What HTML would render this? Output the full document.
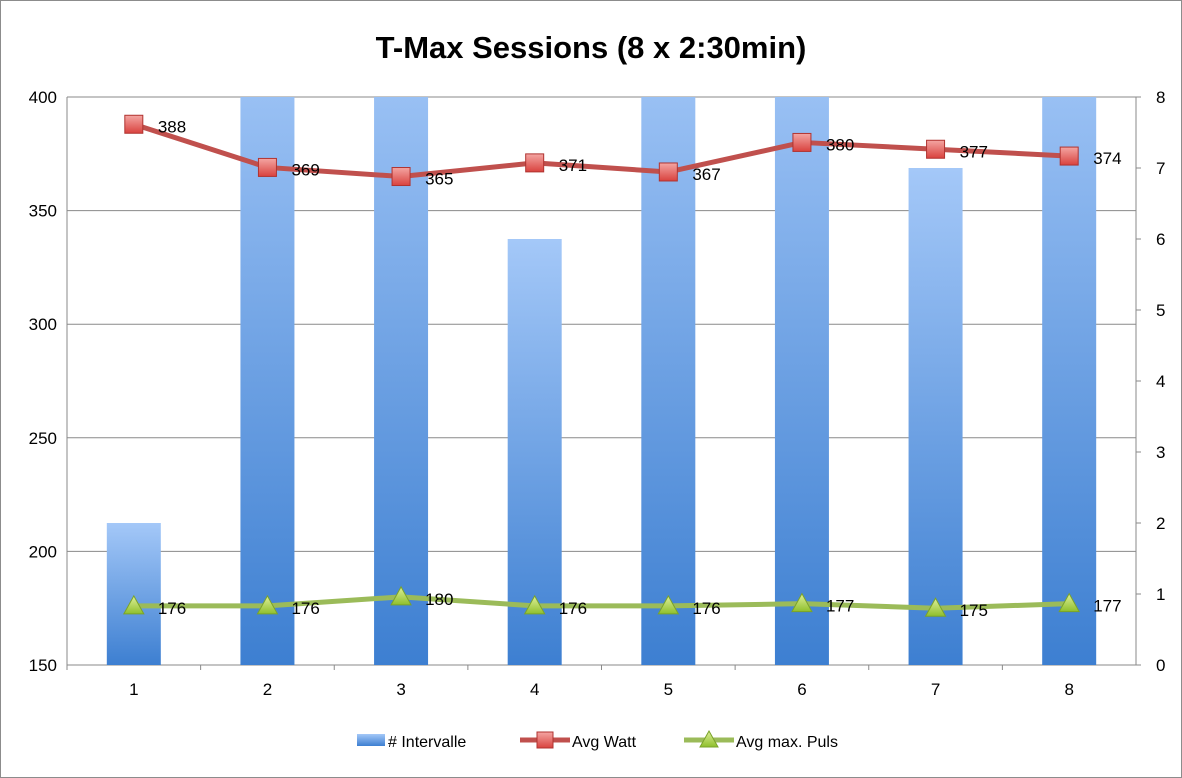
<!DOCTYPE html>
<html><head><meta charset="utf-8"><style>
body{margin:0;background:#fff;}
svg{display:block;font-family:"Liberation Sans",sans-serif;}
</style></head><body>
<svg id="c" width="1182" height="778">
<defs>
<linearGradient id="bg" x1="0" y1="0" x2="0" y2="1">
<stop offset="0" stop-color="#a4c8f8"/><stop offset="1" stop-color="#3d7fd1"/>
</linearGradient>
<linearGradient id="sq" x1="0" y1="0" x2="0" y2="1">
<stop offset="0" stop-color="#f4a6a3"/><stop offset="1" stop-color="#d9423e"/>
</linearGradient>
<linearGradient id="tr" x1="0" y1="0" x2="0" y2="1">
<stop offset="0" stop-color="#dff09a"/><stop offset="1" stop-color="#8fbf2c"/>
</linearGradient>
<clipPath id="plot"><rect x="67" y="97" width="1069" height="568"/></clipPath>
</defs>
<rect x="0.5" y="0.5" width="1181" height="777" fill="#fff" stroke="#8c8c8c"/>
<text x="591" y="58" text-anchor="middle" font-size="31" font-weight="bold">T-Max Sessions (8 x 2:30min)</text>
<g id="g"></g>
</svg>
<script>
const categories=["1","2","3","4","5","6","7","8"];
const intervals=[2,9,9,6,9,9,7,9];
const watt=[388,369,365,371,367,380,377,374];
const puls=[176,176,180,176,176,177,175,177];
const leftTicks=[150,200,250,300,350,400];
const rightTicks=[0,1,2,3,4,5,6,7,8];
const X0=67,X1=1136,Y0=665,Y1=97;
const yL=v=>Y0-(v-150)/250*(Y0-Y1);
const yR=v=>Y0-v/8*(Y0-Y1);
const step=(X1-X0)/categories.length;
const xC=i=>X0+step*(i+0.5);
const g=document.getElementById('g');
const NS='http://www.w3.org/2000/svg';
function mk(t,a,p){const e=document.createElementNS(NS,t);for(const k in a)e.setAttribute(k,a[k]);(p||g).appendChild(e);return e;}
leftTicks.forEach(v=>{
 const l=mk('line',{x1:X0,x2:X1,y1:yL(v),y2:yL(v),stroke:'#8a8a8a','stroke-width':1});
 
 
 const t=mk('text',{x:X0-10,y:yL(v)+6,'text-anchor':'end','font-size':17});t.textContent=v;
 
 
});
rightTicks.forEach(v=>{
 mk('line',{x1:X1,x2:X1+5,y1:yR(v),y2:yR(v),stroke:'#8a8a8a'});
 const t=mk('text',{x:X1+20,y:yR(v)+6,'font-size':17});t.textContent=v;
 
 
});
mk('line',{x1:X0,x2:X0,y1:Y1,y2:Y0,stroke:'#8a8a8a'});
mk('line',{x1:X1,x2:X1,y1:Y1,y2:Y0,stroke:'#8a8a8a'});
const bg=mk('g',{'clip-path':'url(#plot)'});
intervals.forEach((v,i)=>{
 const r=mk('rect',{x:xC(i)-27,y:yR(v),width:54,height:Y0-yR(v),fill:'url(#bg)'},bg);
 
 
});
categories.forEach((c,i)=>{
 mk('line',{x1:X0+step*i,x2:X0+step*i,y1:Y0,y2:Y0+5,stroke:'#8a8a8a'});
 const t=mk('text',{x:xC(i),y:Y0+30,'text-anchor':'middle','font-size':17});t.textContent=c;
 
 
});
function series(vals,color,name,marker){
 const p=mk('polyline',{points:vals.map((v,i)=>xC(i)+','+yL(v)).join(' '),fill:'none',stroke:color,'stroke-width':5,'stroke-linejoin':'round'});
 
 
 vals.forEach((v,i)=>{
  const x=xC(i),y=yL(v);
  let m;
  if(marker==='sq') m=mk('rect',{x:x-9,y:y-9,width:18,height:18,fill:'url(#sq)',stroke:'#b03330','stroke-width':1});
  else m=mk('polygon',{points:`${x},${y-10} ${x+10},${y+8} ${x-10},${y+8}`,fill:'url(#tr)',stroke:'#7aa32a','stroke-width':1});
  
  
  const t=mk('text',{x:x+24,y:y+8,'font-size':17});t.textContent=v;
  
  
 });
}
series(watt,'#c0504d','avg-watt','sq');
series(puls,'#9bbb59','avg-puls','tr');
const lg=mk('g',{});


mk('rect',{x:357,y:734,width:28,height:12,fill:'url(#bg)'},lg);
let t=mk('text',{x:388,y:747,'font-size':16},lg);t.textContent='# Intervalle';
mk('line',{x1:520,x2:570,y1:740,y2:740,stroke:'#c0504d','stroke-width':5},lg);
mk('rect',{x:537,y:732,width:16,height:16,fill:'url(#sq)',stroke:'#b03330'},lg);
t=mk('text',{x:572,y:747,'font-size':16},lg);t.textContent='Avg Watt';
mk('line',{x1:684,x2:734,y1:740,y2:740,stroke:'#9bbb59','stroke-width':5},lg);
mk('polygon',{points:'709,731 718,747 700,747',fill:'url(#tr)',stroke:'#7aa32a'},lg);
t=mk('text',{x:736,y:747,'font-size':16},lg);t.textContent='Avg max. Puls';
</script>
</body></html>
